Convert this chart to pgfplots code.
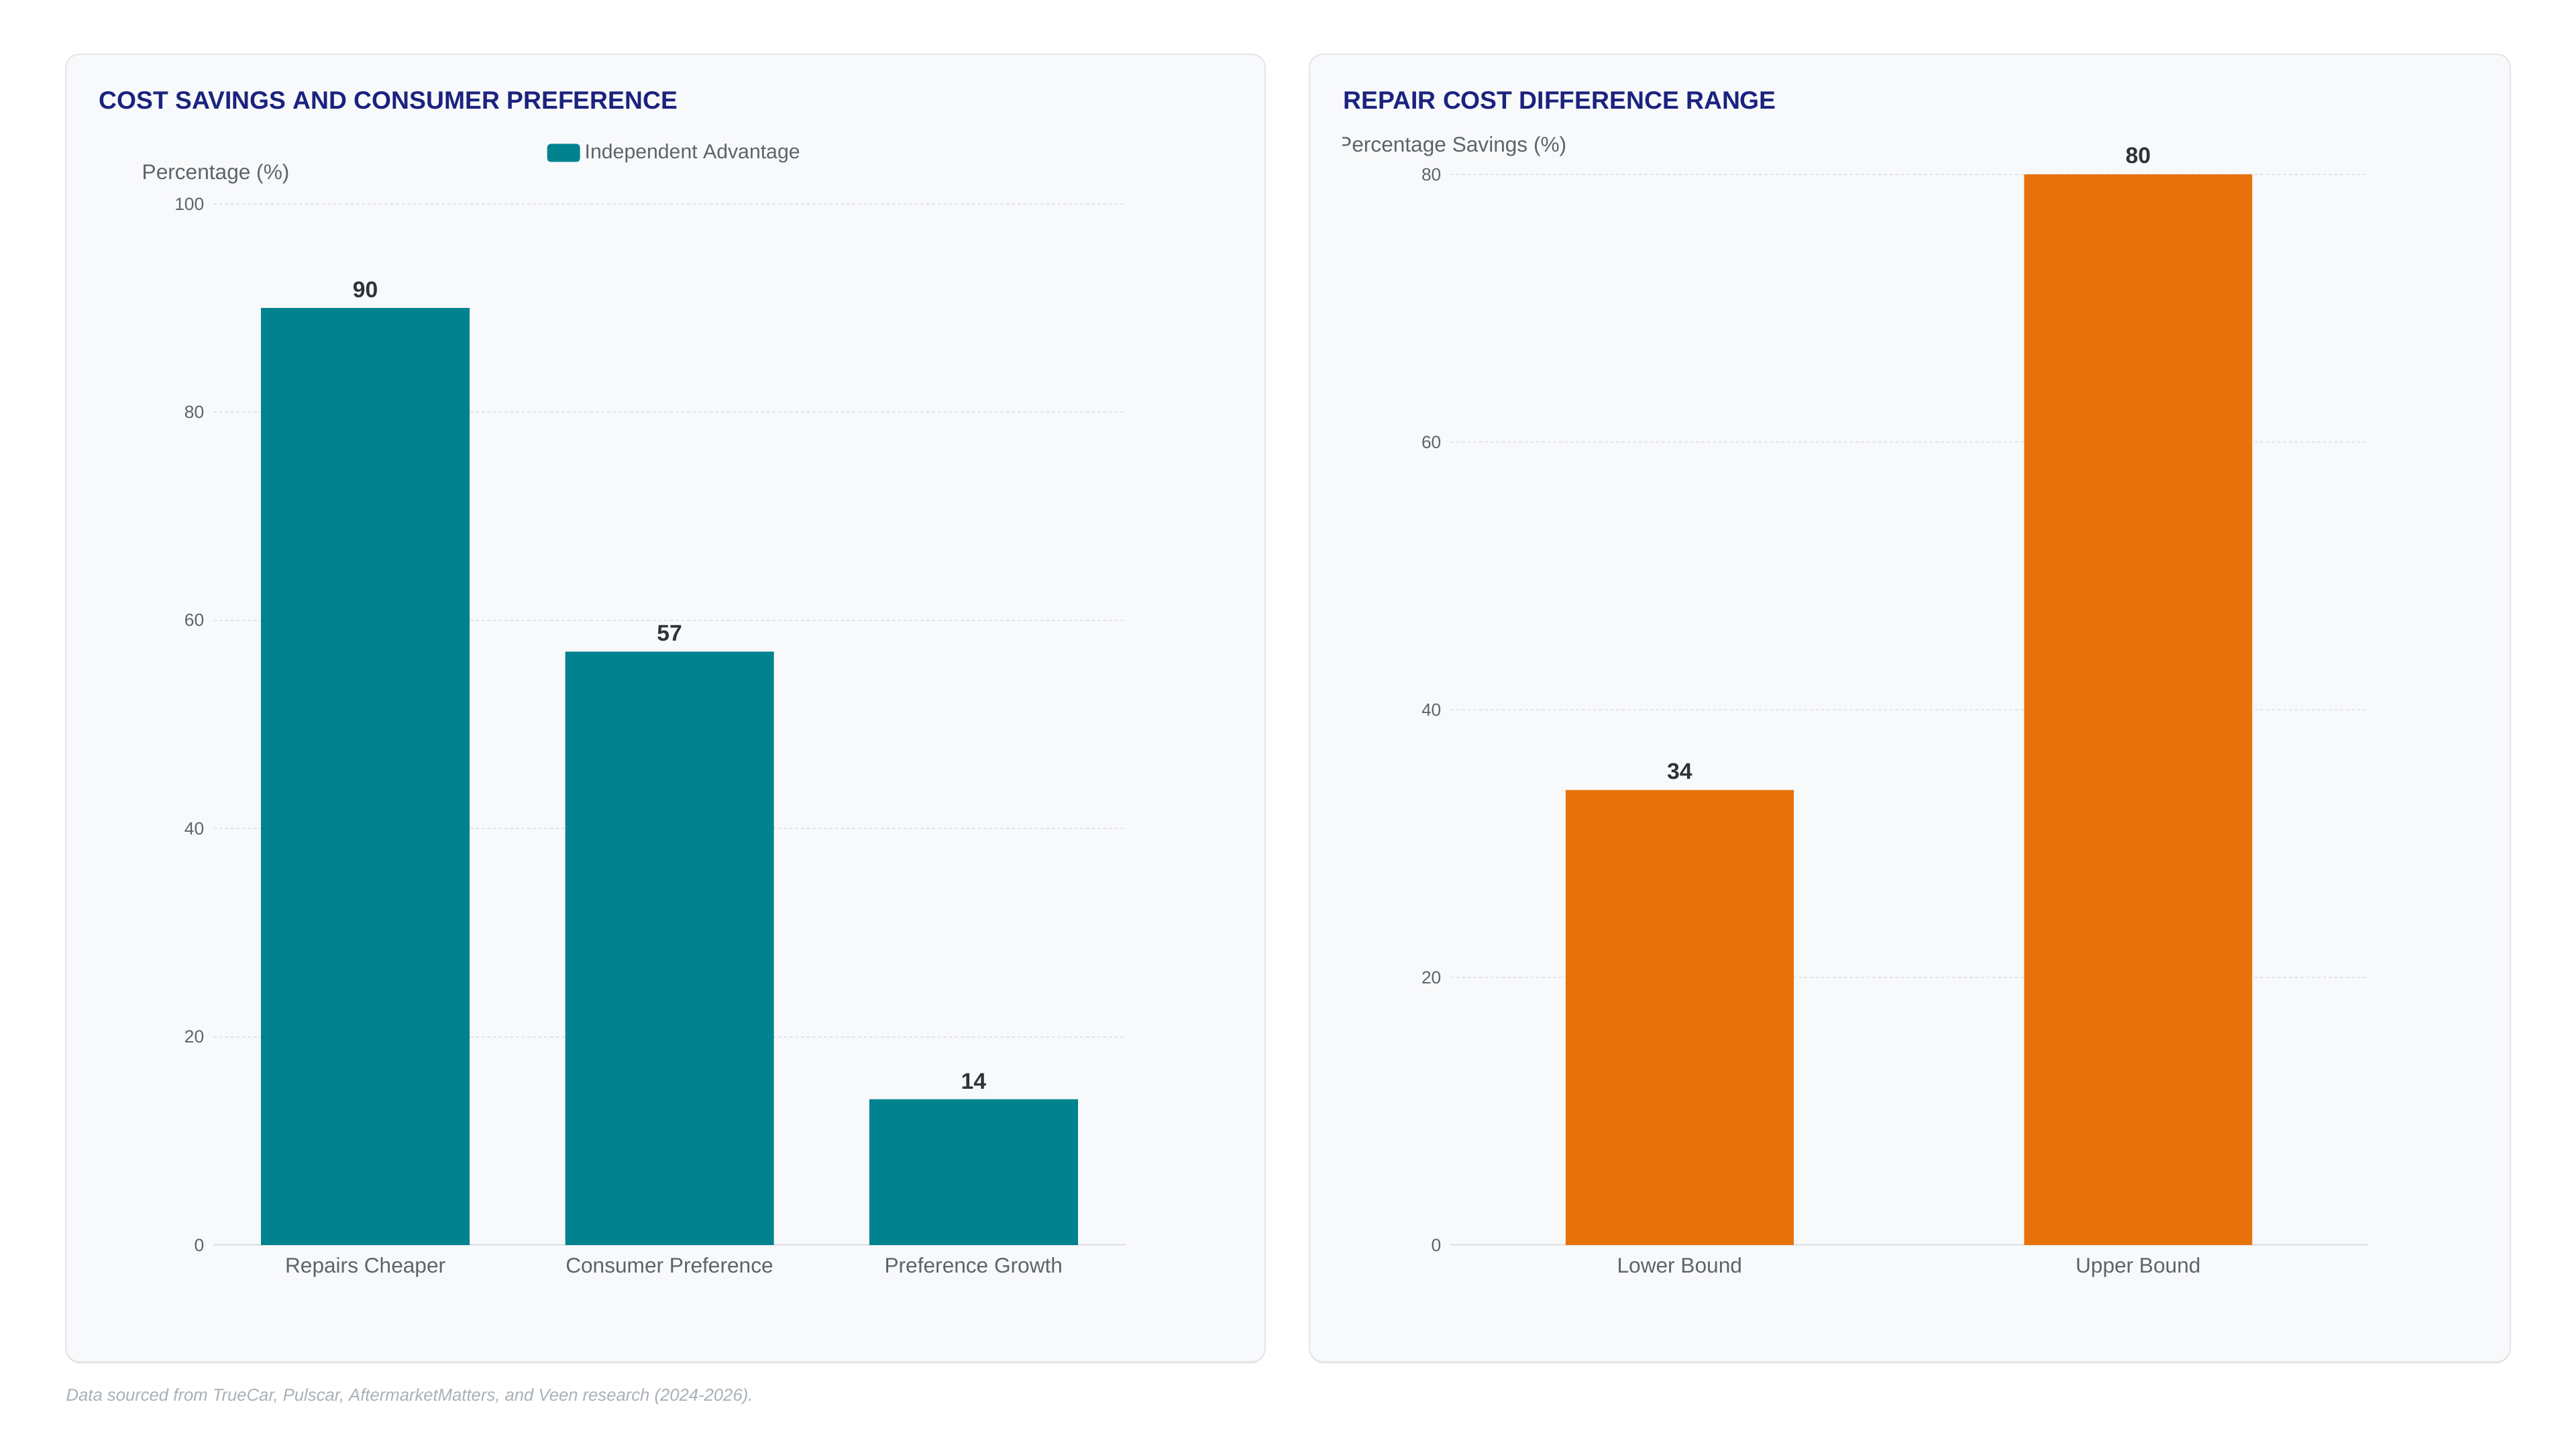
\documentclass[border=0pt]{standalone}
\usepackage{fontspec}
\setmainfont{Liberation Sans}
\usepackage{pgfplots}
\pgfplotsset{compat=1.18}

\definecolor{barteal}{HTML}{00838F}
\definecolor{barorange}{HTML}{E8710A}
\definecolor{titlenavy}{HTML}{1A237E}
\definecolor{cardfill}{HTML}{F8F9FB}
\definecolor{cardedge}{HTML}{E3E5E9}
\definecolor{gridgray}{HTML}{E3E5E8}
\definecolor{ticktext}{HTML}{5F6368}
\definecolor{valtext}{HTML}{2B3438}
\definecolor{notegray}{HTML}{A9B0B6}

\pgfplotsset{
  panel/.style={
    scale only axis,
    /pgf/number format/assume math mode=true,
    axis lines=left,
    axis line style={-},
    x axis line style={draw=gridgray, line width=0.3mm},
    y axis line style={draw=none},
    major tick length=0pt,
    tick style={draw=none},
    ymajorgrids,
    grid style={gridgray, line width=0.2mm, dash pattern=on 0.5mm off 0.35mm},
    ymin=0,
    xtick=data,
    clip=false,
    tick label style={font=\fontsize{7.5}{9}\selectfont, text=ticktext},
    yticklabel style={inner sep=0pt, xshift=-1.3mm},
    xticklabel style={font=\fontsize{9}{11}\selectfont, inner sep=0pt, yshift=-1.8mm},
    ybar,
    nodes near coords,
    every node near coord/.append style={font=\fontsize{9.6}{11}\selectfont\bfseries,
      text=valtext, inner sep=0pt, yshift=1.5mm},
  },
}

\begin{document}
\begin{tikzpicture}
  % page and cards
  \fill[white] (0,0) rectangle (384mm,216mm);
  \fill[cardedge!70, rounded corners=2mm] (9.9mm,12.7mm) rectangle (188.5mm,20mm);
  \filldraw[fill=cardfill, draw=cardedge, line width=0.2mm, rounded corners=2mm]
    (9.8mm,13.0mm) rectangle (188.6mm,207.9mm);
  \fill[cardedge!70, rounded corners=2mm] (195.3mm,12.7mm) rectangle (374.1mm,20mm);
  \filldraw[fill=cardfill, draw=cardedge, line width=0.2mm, rounded corners=2mm]
    (195.2mm,13.0mm) rectangle (374.2mm,207.9mm);

  % titles
  \node[anchor=base west, inner sep=0pt, text=titlenavy,
        font=\fontsize{10.6}{12}\selectfont\bfseries]
    at (14.7mm,199.7mm) {COST SAVINGS AND CONSUMER PREFERENCE};
  \node[anchor=base west, inner sep=0pt, text=titlenavy,
        font=\fontsize{10.6}{12}\selectfont\bfseries]
    at (200.2mm,199.7mm) {REPAIR COST DIFFERENCE RANGE};

  % axis titles
  \node[anchor=west, inner sep=0pt, text=ticktext, font=\fontsize{9}{11}\selectfont]
    at (21.1mm,190.1mm) {Percentage (\%)};
  \begin{scope}
    \clip (200.1mm,185mm) rectangle (260mm,202mm);
    \node[anchor=east, inner sep=0pt, text=ticktext, font=\fontsize{9}{11}\selectfont]
      at (233.6mm,194.2mm) {Percentage Savings (\%)};
  \end{scope}

  % left panel: independent shop advantage
  \begin{axis}[panel,
    at={(31.8mm,30.4mm)}, anchor=south west,
    width=136mm, height=155.2mm,
    xmin=-0.5, xmax=2.5, ymax=100,
    ytick={0,20,40,60,80,100},
    xticklabels={Repairs Cheaper, Consumer Preference, Preference Growth},
    bar width=31.1mm,
    legend style={at={(0.5,1)}, anchor=center, xshift=0.97mm, yshift=7.6mm,
      draw=none, fill=none,
      font=\fontsize{8.6}{10}\selectfont, text=ticktext,
      /tikz/every even column/.append style={column sep=1.55mm}},
  ]
    \addplot[fill=barteal, draw=none,
      legend image code/.code={\fill[barteal, rounded corners=0.5mm]
        (0mm,-1.35mm) rectangle (4.9mm,1.35mm);}]
      coordinates {(0,90) (1,57) (2,14)};
    \addlegendentry{Independent Advantage}
  \end{axis}

  % right panel: repair cost difference range
  \begin{axis}[panel,
    at={(216.2mm,30.4mm)}, anchor=south west,
    width=136.7mm, height=159.6mm,
    xmin=-0.5, xmax=1.5, ymax=80,
    ytick={0,20,40,60,80},
    xticklabels={Lower Bound, Upper Bound},
    bar width=34.0mm,
  ]
    \addplot[fill=barorange, draw=none]
      coordinates {(0,34) (1,80)};
  \end{axis}

  % source note
  \node[anchor=west, inner sep=0pt, text=notegray, font=\fontsize{7.3}{9}\selectfont\itshape]
    at (9.8mm,7.8mm) {Data sourced from TrueCar, Pulscar, AftermarketMatters, and Veen research (2024-2026).};
\end{tikzpicture}
\end{document}
